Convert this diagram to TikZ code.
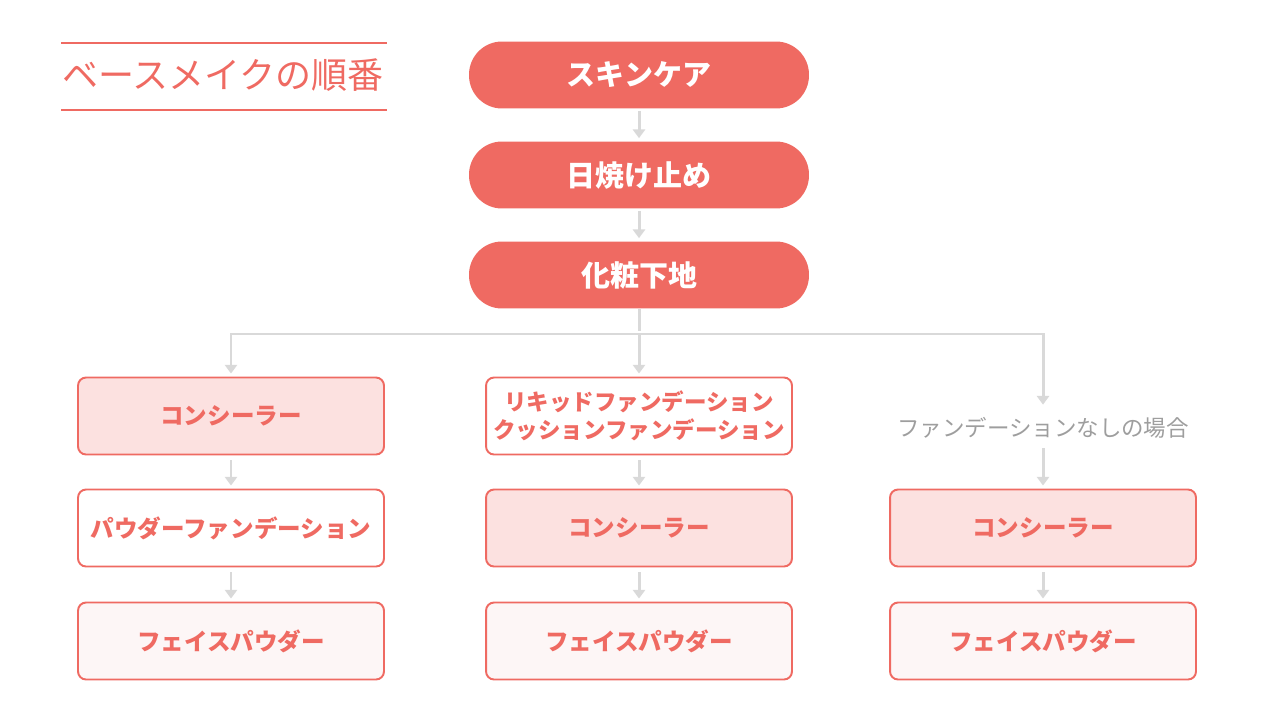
\documentclass[tikz,border=0pt]{standalone}
\usepackage{fontspec}
\setmainfont{Noto Sans CJK JP}
\usepackage{xcolor}
\usepackage{tikz}
\usetikzlibrary{arrows.meta}
\definecolor{coral}{HTML}{EF6A62}
\definecolor{blush}{HTML}{FCE1E0}
\definecolor{shell}{HTML}{FDF6F6}
\definecolor{flowgray}{HTML}{D9D9D9}
\definecolor{notegray}{HTML}{9E9E9E}

\begin{document}
\begin{tikzpicture}[x=0.02cm,y=-0.02cm,
    pill/.style={fill=coral,text=white,font=\bfseries\fontsize{16.5}{20}\selectfont,
        minimum width=6.8cm,minimum height=1.34cm,rounded corners=0.66cm,inner sep=0},
    stage/.style={draw=coral,line width=1.1pt,text=coral,font=\bfseries\fontsize{13.4}{16}\selectfont,
        minimum width=6.12cm,minimum height=1.54cm,rounded corners=0.16cm,align=center,inner sep=0},
    note/.style={text=notegray,font=\fontsize{12.8}{15}\selectfont,minimum height=0.8cm,inner sep=0},
    flow/.style={draw=flowgray,line width=1.7pt,-{Triangle[width=7pt,length=5pt]},shorten >=0.06cm},
    gap/.style={shorten <=0.1cm}]
		\useasboundingbox (0,0) rectangle (1280,720);

		% title
		\node[text=coral,font=\fontsize{20.5}{24}\selectfont,inner sep=0] (title) at (223,75) {ベースメイクの順番};
		\draw[coral,line width=1.1pt] (61,43) -- (387,43);
		\draw[coral,line width=1.1pt] (61,110) -- (387,110);

		% common steps
		\node[pill] (skin) at (639,75) {スキンケア};
		\node[pill] (sun) at (639,175) {日焼け止め};
		\node[pill] (base) at (639,275) {化粧下地};
		\coordinate (fork) at (639,334);

		% left column
		\node[stage,fill=blush] (lcon) at (231,416) {コンシーラー};
		\node[stage,fill=white] (lpow) at (231,528) {パウダーファンデーション};
		\node[stage,fill=shell] (lfp) at (231,641) {フェイスパウダー};

		% middle column
		\node[stage,fill=white,font=\bfseries\fontsize{12.8}{15.9}\selectfont] (mliq) at (639,416) {リキッドファンデーション\\クッションファンデーション};
		\node[stage,fill=blush] (mcon) at (639,528) {コンシーラー};
		\node[stage,fill=shell] (mfp) at (639,641) {フェイスパウダー};

		% right column
		\node[note] (rnone) at (1043,428) {ファンデーションなしの場合};
		\node[stage,fill=blush] (rcon) at (1043,528) {コンシーラー};
		\node[stage,fill=shell] (rfp) at (1043,641) {フェイスパウダー};

		% arrows
		\draw[flow,shorten <=0.04cm] (skin) -- (sun);
		\draw[flow,shorten <=0.04cm] (sun) -- (base);
		\draw[flow,-] (base.south) -- (fork);
		\draw[flow] (fork) -| (lcon.north);
		\draw[flow] (fork) -- (mliq.north);
		\draw[flow] (fork) -| (rnone.north);

		\draw[flow,gap] (lcon) -- (lpow);
		\draw[flow,gap] (lpow) -- (lfp);
		\draw[flow,gap] (mliq) -- (mcon);
		\draw[flow,gap] (mcon) -- (mfp);
		\draw[flow,shorten <=0cm] (rnone) -- (rcon);
		\draw[flow,gap] (rcon) -- (rfp);
\end{tikzpicture}
\end{document}
